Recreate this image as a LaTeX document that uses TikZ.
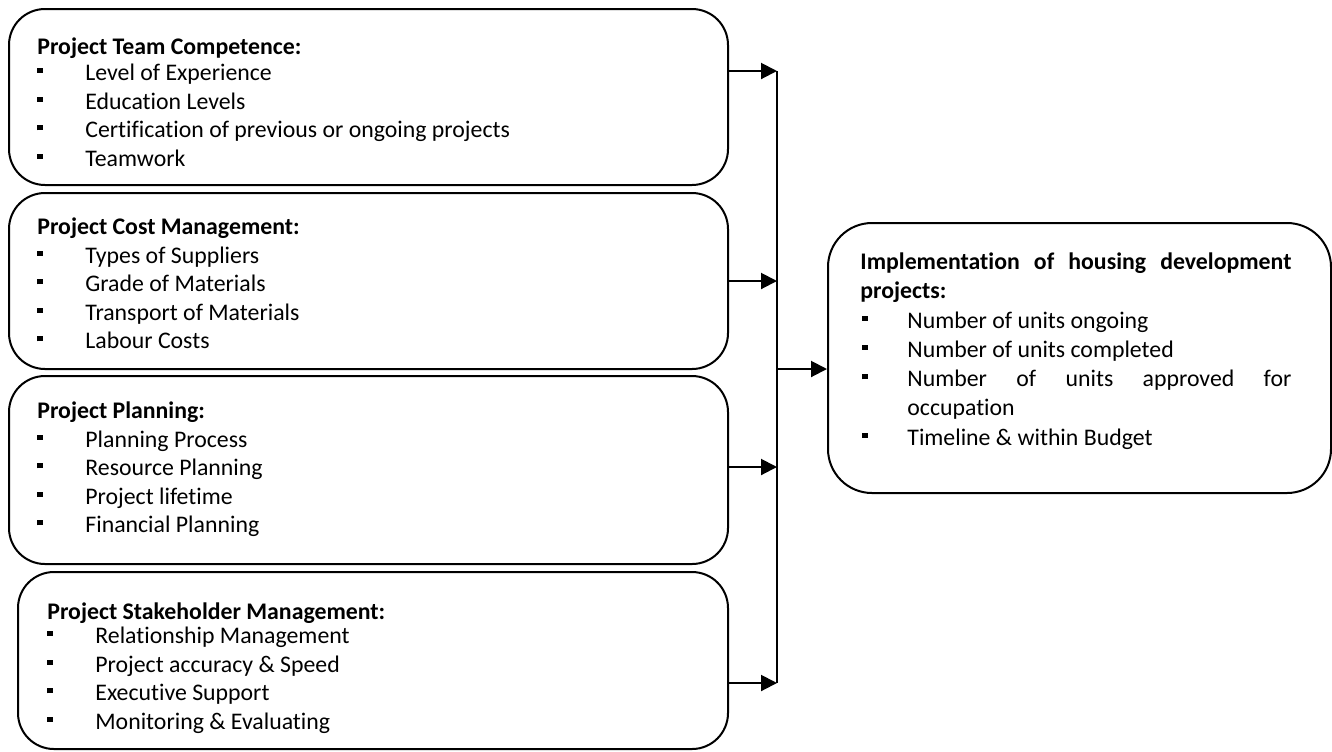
\documentclass[tikz,border=0pt]{standalone}
\usepackage{fontspec}
\setmainfont{Carlito}[Ligatures={NoCommon}]
\usetikzlibrary{arrows.meta}

% square bullet and bullet item with a fixed hanging gap
\newcommand\sqbul{\rule[3.6pt]{2.6pt}{2.6pt}}
\newcommand\bitem[2][24pt]{\makebox[#1][l]{\sqbul}#2}

\begin{document}
\begin{tikzpicture}[x=0.5pt,y=-0.5pt,
  box/.style={draw, line width=1pt, rounded corners=18pt, anchor=north west, inner sep=0pt},
  txt/.style={anchor=base west, inner sep=0pt, font=\fontsize{11.9pt}{14pt}\selectfont},
  hd/.style={txt, font=\fontsize{11.9pt}{14pt}\selectfont\bfseries},
  arr/.style={line width=1pt, -{Triangle[length=8pt,width=8pt]}},
  bus/.style={line width=1pt}]
\useasboundingbox (0,0) rectangle (1332,751);

% input boxes
\node[box, minimum width=359.5pt, minimum height=88pt] (b1) at (8,8) {};
\node[box, minimum width=359.5pt, minimum height=88pt] (b2) at (8,192) {};
\node[box, minimum width=359.5pt, minimum height=94pt] (b3) at (8,375) {};
\node[box, minimum width=355pt, minimum height=88.5pt] (b4) at (17,571) {};
% outcome box
\node[box, rounded corners=22pt, minimum width=251.5pt, minimum height=135pt] (r) at (827,222) {};

% box 1
\node[hd]  (t1)  at (37,54)    {Project Team Competence:};
\node[txt] (t1a) at (37,80)    {\bitem{Level of Experience}};
\node[txt] (t1b) at (37,109)   {\bitem{Education Levels}};
\node[txt] (t1c) at (37,137.5) {\bitem{Certification of previous or ongoing projects}};
\node[txt] (t1d) at (37,166)   {\bitem{Teamwork}};

% box 2
\node[hd]  (t2)  at (37,234)   {Project Cost Management:};
\node[txt] (t2a) at (37,263)   {\bitem{Types of Suppliers}};
\node[txt] (t2b) at (37,291.5) {\bitem{Grade of Materials}};
\node[txt] (t2c) at (37,320)   {\bitem{Transport of Materials}};
\node[txt] (t2d) at (37,348.5) {\bitem{Labour Costs}};

% box 3
\node[hd]  (t3)  at (37,418)   {Project Planning:};
\node[txt] (t3a) at (37,447)   {\bitem{Planning Process}};
\node[txt] (t3b) at (37,475.5) {\bitem{Resource Planning}};
\node[txt] (t3c) at (37,504)   {\bitem{Project lifetime}};
\node[txt] (t3d) at (37,532.5) {\bitem{Financial Planning}};

% box 4
\node[hd]  (t4)  at (47,619)   {Project Stakeholder Management:};
\node[txt] (t4a) at (47,643)   {\bitem{Relationship Management}};
\node[txt] (t4b) at (47,672)   {\bitem{Project accuracy \& Speed}};
\node[txt] (t4c) at (47,700.5) {\bitem{Executive Support}};
\node[txt] (t4d) at (47,729)   {\bitem{Monitoring \& Evaluating}};

% outcome box text
\node[hd]  (tr)  at (860,269) {\makebox[215.5pt][s]{Implementation of housing development}};
\node[hd]  (tr2) at (860,298) {projects:};
\node[txt] (tra) at (862,328) {\bitem[22.5pt]{Number of units ongoing}};
\node[txt] (trb) at (862,357) {\bitem[22.5pt]{Number of units completed}};
\node[txt] (trc) at (862,386.5) {\bitem[22.5pt]{\makebox[192pt][s]{Number of units approved for}}};
\node[txt] (trd) at (907,415.5) {occupation};
\node[txt] (tre) at (862,445) {\bitem[22.5pt]{Timeline \& within Budget}};

% collecting bus and arrows
\coordinate (j1) at (777,71);
\coordinate (j2) at (777,281);
\coordinate (j3) at (777,467);
\coordinate (j4) at (777,683);
\coordinate (jm) at (777,369);
\draw[bus] (j1) -- (j4);
\draw[arr] (b1.east |- j1) -- (j1);
\draw[arr] (b2.east |- j2) -- (j2);
\draw[arr] (b3.east |- j3) -- (j3);
\draw[arr] (b4.east |- j4) -- (j4);
\draw[arr] (jm) -- (jm -| r.west);
\end{tikzpicture}
\end{document}
